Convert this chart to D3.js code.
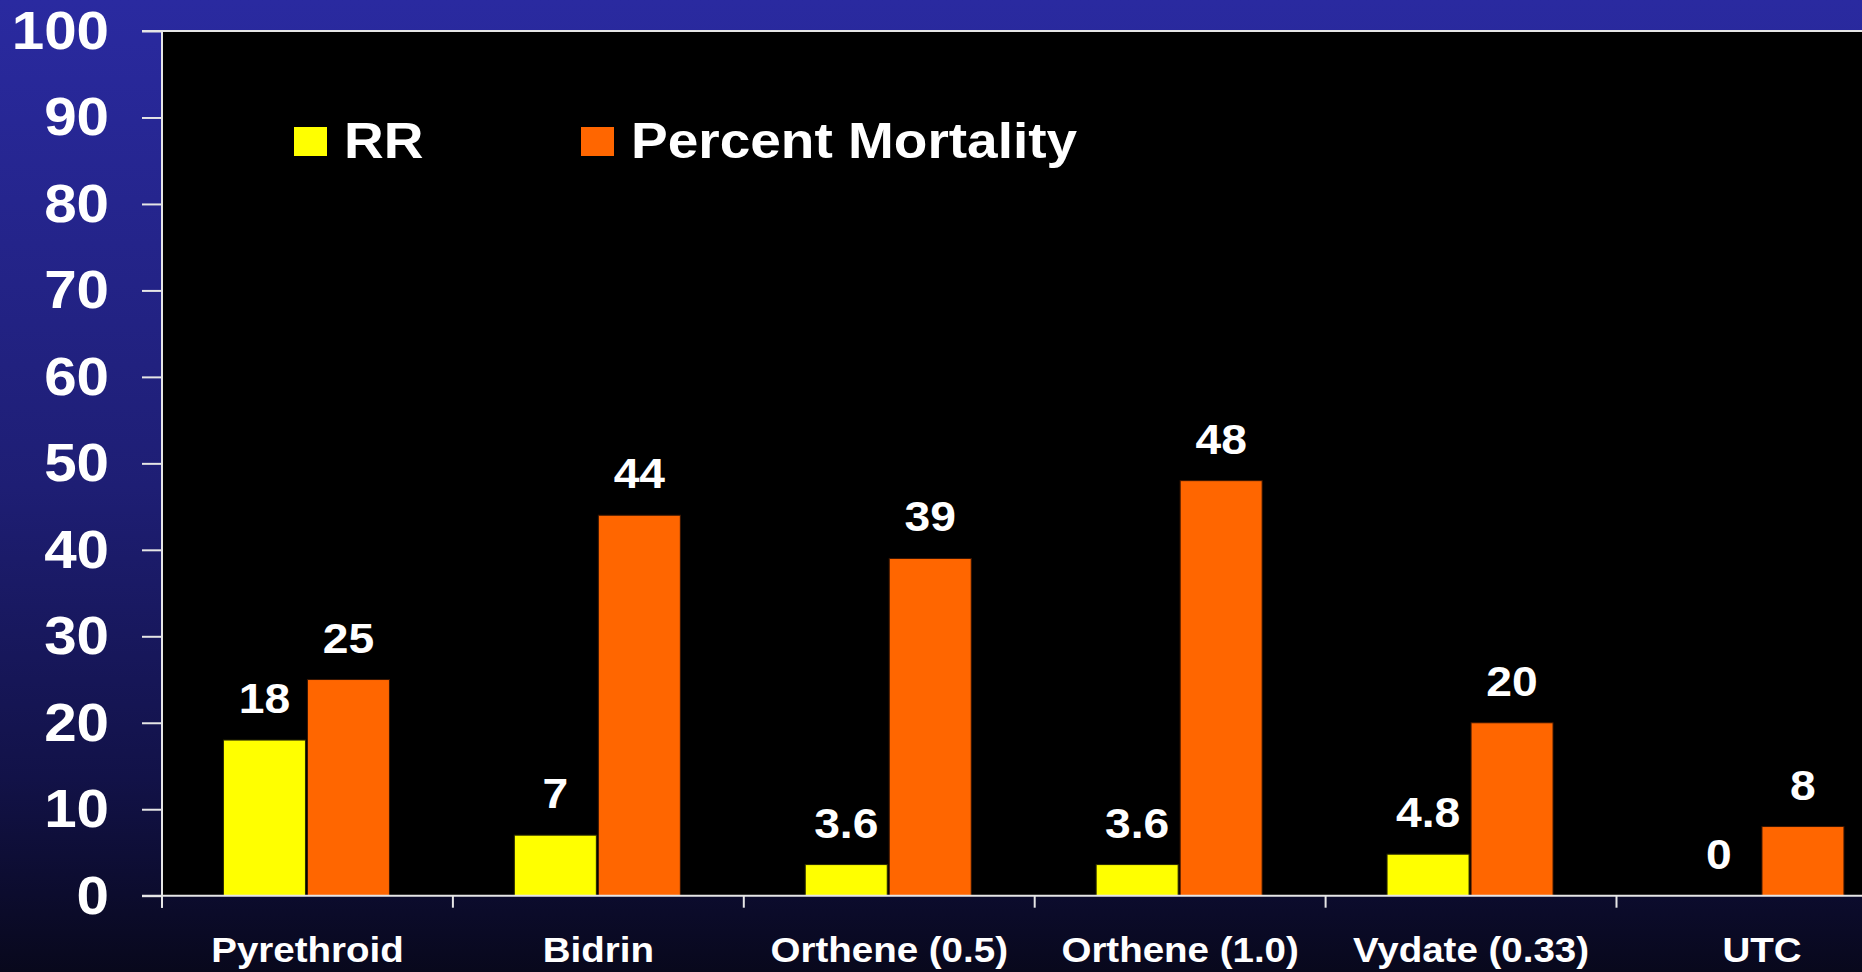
<!DOCTYPE html>
<html>
<head>
<meta charset="utf-8">
<script src="https://cdn.jsdelivr.net/npm/d3@7"></script>
<style>
  html, body { margin: 0; padding: 0; background: #000; overflow: hidden; }
  svg { display: block; }
  text { font-family: "Liberation Sans", Arial, sans-serif; font-weight: bold; fill: #fff; }
</style>
</head>
<body>
<svg id="chart"></svg>
<script>
// data
const categories = ["Pyrethroid", "Bidrin", "Orthene (0.5)", "Orthene (1.0)", "Vydate (0.33)", "UTC"];
const rrValues = [18, 7, 3.6, 3.6, 4.8, 0];
const mortalityValues = [25, 44, 39, 48, 20, 8];
const rrLabels = ["18", "7", "3.6", "3.6", "4.8", "0"];
const mortalityLabels = ["25", "44", "39", "48", "20", "8"];
const seriesNames = ["RR", "Percent Mortality"];
const yTicks = [0, 10, 20, 30, 40, 50, 60, 70, 80, 90, 100];

const width = 1862, height = 972;
const plotLeft = 162, plotTop = 31, plotBottom = 895.7, catStep = 290.9;
const stretch = 1.1;

let colorRR = "#ffff00";
let colorMort = "#ff6600";
let lineColor = "#e6e6e6";

const svg = d3.select("#chart").attr("width", width).attr("height", height);

// background gradient
const defs = svg.append("defs");
const grad = defs.append("linearGradient").attr("id", "bg").attr("x1", 0).attr("y1", 0).attr("x2", 0).attr("y2", 1);
grad.append("stop").attr("offset", 0).attr("stop-color", "#2a2aa0");
grad.append("stop").attr("offset", 0.5).attr("stop-color", "#1e1e74");
grad.append("stop").attr("offset", 0.8).attr("stop-color", "#121248");
grad.append("stop").attr("offset", 1).attr("stop-color", "#08081c");
svg.append("rect").attr("width", width).attr("height", height).attr("fill", "url(#bg)");

const y = d3.scaleLinear().domain([0, 100]).range([plotBottom, plotTop]);
const x = d3.scaleBand().domain(categories).range([plotLeft, plotLeft + catStep * categories.length]);

// plot area
svg.append("rect")
  .attr("x", plotLeft).attr("y", plotTop)
  .attr("width", width - plotLeft).attr("height", plotBottom - plotTop)
  .attr("fill", "#000");

// stretched text helper (slide fonts are a little wider than Arial)
const label = (g, tx, ty, txt, size, anchor) => g.append("text")
  .attr("transform", `translate(${tx},${ty}) scale(${stretch},1)`)
  .attr("text-anchor", anchor || "middle")
  .style("font-size", size + "px")
  .text(txt);

// bars
const rows = categories.map((c, i) => ({ c, rr: rrValues[i], m: mortalityValues[i], rrL: rrLabels[i], mL: mortalityLabels[i] }));
const center = d => x(d.c) + x.bandwidth() / 2;
const barW = 82;

const groups = svg.append("g").selectAll("g").data(rows).join("g");

groups.append("rect")
  .attr("x", d => center(d) - 84).attr("width", barW)
  .attr("y", d => y(d.rr)).attr("height", d => y(0) - y(d.rr))
  .attr("fill", colorRR).attr("stroke", "#2a2a00").attr("stroke-width", 1)
  .attr("display", d => d.rr > 0 ? null : "none");

groups.append("rect")
  .attr("x", d => center(d)).attr("width", barW)
  .attr("y", d => y(d.m)).attr("height", d => y(0) - y(d.m))
  .attr("fill", colorMort).attr("stroke", "#3a1500").attr("stroke-width", 1);

groups.each(function(d) {
  const g = d3.select(this);
  label(g, center(d) - 84 + barW / 2, y(d.rr) - 27, d.rrL, 42);
  label(g, center(d) + barW / 2, y(d.m) - 27, d.mL, 42);
});

// axes
const axisY = svg.append("g").attr("transform", `translate(${plotLeft},0)`)
  .call(d3.axisLeft(y).tickValues(yTicks).tickSize(20).tickSizeOuter(0).tickFormat(""));
axisY.select(".domain").remove();
axisY.selectAll("line").attr("stroke", lineColor).attr("stroke-width", 2);

const axisX = svg.append("g").attr("transform", `translate(0,${plotBottom})`)
  .call(d3.axisBottom(x).tickSize(12).tickSizeOuter(0).tickFormat(""));
axisX.select(".domain").remove();
axisX.selectAll(".tick").attr("transform", d => `translate(${x(d)},0)`);
axisX.selectAll("line").attr("stroke", lineColor).attr("stroke-width", 2);

// frame lines
svg.append("line").attr("x1", plotLeft).attr("x2", plotLeft).attr("y1", plotTop).attr("y2", plotBottom + 12)
  .attr("stroke", lineColor).attr("stroke-width", 2);
svg.append("line").attr("x1", plotLeft - 20).attr("x2", width).attr("y1", plotTop).attr("y2", plotTop)
  .attr("stroke", lineColor).attr("stroke-width", 2);
svg.append("line").attr("x1", plotLeft - 20).attr("x2", width).attr("y1", plotBottom).attr("y2", plotBottom)
  .attr("stroke", lineColor).attr("stroke-width", 2);

// tick labels
const tl = svg.append("g");
yTicks.forEach(t => label(tl, 109, y(t) + 18, String(t), 53, "end"));
categories.forEach(c => label(tl, x(c) + x.bandwidth() / 2, 961.7, c, 35));

// legend
const legend = svg.append("g");
const legendX = [294, 581];
[colorRR, colorMort].forEach((col, i) => {
  legend.append("rect").attr("x", legendX[i]).attr("y", 127).attr("width", 33).attr("height", 29).attr("fill", col);
  label(legend, legendX[i] + 50, 158, seriesNames[i], 50, "start");
});
</script>
</body>
</html>
